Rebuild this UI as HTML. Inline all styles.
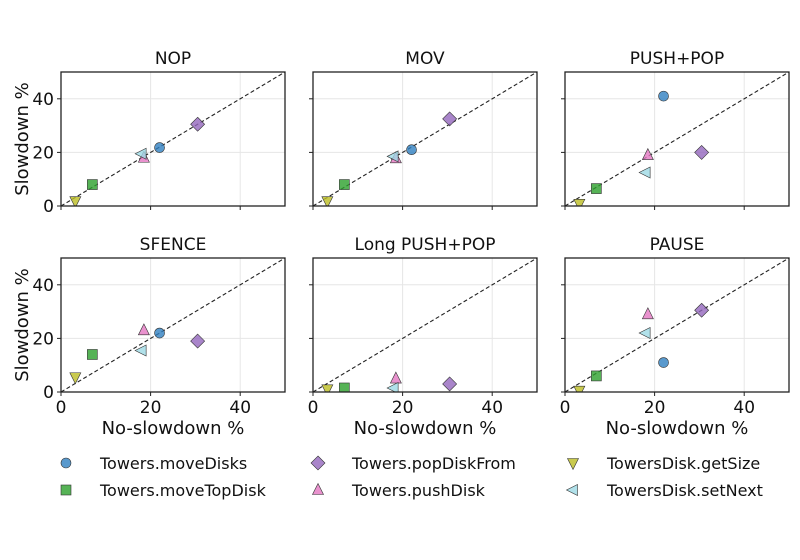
<!DOCTYPE html>
<html><head><meta charset="utf-8"><style>
body{margin:0;background:#fff}
svg{display:block;font-family:"DejaVu Sans","Liberation Sans",sans-serif}
</style></head><body>
<svg id="c" width="800" height="560"></svg>
<script>
const panelTitles=["NOP","MOV","PUSH+POP","SFENCE","Long PUSH+POP","PAUSE"];
const seriesNames=["Towers.moveDisks","Towers.moveTopDisk","Towers.popDiskFrom","Towers.pushDisk","TowersDisk.getSize","TowersDisk.setNext"];
const xValues=[22,7,30.5,18.5,3.2,18];
const yNOP=[21.8,8,30.5,18,1.8,19.5];
const yMOV=[21,8,32.5,17.8,1.8,18.5];
const yPUSHPOP=[41,6.5,20,19,0.8,12.5];
const ySFENCE=[22,14,19,23,5.5,15.5];
const yLONG=[-5,1.5,3,5,1,1.5];
const yPAUSE=[11,6,30.5,29,0.5,22];
const ticks=[0,20,40];
const tickLabels=["0","20","40"];
const panelY=[yNOP,yMOV,yPUSHPOP,ySFENCE,yLONG,yPAUSE];
const colors=["#2f7fc0","#2ca02c","#9467bd","#e377c2","#bcbd22","#9edae5"];
const shapes=["circle","square","diamond","tri-up","tri-down","tri-left"];
const NS="http://www.w3.org/2000/svg";
const svg=document.getElementById('c');
function mk(t,a,p){const e=document.createElementNS(NS,t);for(const k in a)e.setAttribute(k,a[k]);(p||svg).appendChild(e);return e;}
function marker(g,shape,cx,cy,col){
  let e;const s=5.5;
  if(shape=="circle")e=mk('circle',{cx:cx,cy:cy,r:5},g);
  else if(shape=="square")e=mk('rect',{x:cx-5,y:cy-5,width:10,height:10},g);
  else{let pts;
    if(shape=="diamond")pts=[[0,-7],[7,0],[0,7],[-7,0]];
    if(shape=="tri-up")pts=[[0,-s-1],[s,s-1],[-s,s-1]];
    if(shape=="tri-down")pts=[[0,s+1],[s,-s+1],[-s,-s+1]];
    if(shape=="tri-left")pts=[[-s-1,0],[s-1,-s],[s-1,s]];
    e=mk('polygon',{points:pts.map(p=>(cx+p[0])+','+(cy+p[1])).join(' ')},g);}
  e.setAttribute('fill',col);e.setAttribute('fill-opacity','0.8');e.setAttribute('stroke','#333');e.setAttribute('stroke-width','0.6');
  return e;
}
const panelLeft=[61,313,565],panelTop=[72,258],W=224,H=134,maxV=50;
mk('defs',{}).innerHTML='<clipPath id="cp"><rect x="0" y="0" width="224" height="134"/></clipPath>';
panelY.forEach((ys,pi)=>{
  const x0=panelLeft[pi%3],y0=panelTop[Math.floor(pi/3)];
  const sx=v=>x0+v/maxV*W, sy=v=>y0+H-v/maxV*H;
  const g=mk('g',{});
  
  
  ticks.forEach((t,i)=>{
    const gx=mk('line',{x1:sx(t),x2:sx(t),y1:y0,y2:y0+H,stroke:'#e6e6e6','stroke-width':1},g);
    
    const gy=mk('line',{x1:x0,x2:x0+W,y1:sy(t),y2:sy(t),stroke:'#e6e6e6','stroke-width':1},g);
    
    mk('line',{x1:sx(t),x2:sx(t),y1:y0+H,y2:y0+H+4,stroke:'#222'},g);
    mk('line',{x1:x0-4,x2:x0,y1:sy(t),y2:sy(t),stroke:'#222'},g);
    if(pi%3==0){const tl=mk('text',{x:x0-7,y:sy(t)+6,'text-anchor':'end','font-size':17,fill:'#111'},g);tl.textContent=tickLabels[i];
      }
    if(pi>=3){const tl=mk('text',{x:sx(t),y:y0+H+21,'text-anchor':'middle','font-size':17,fill:'#111'},g);tl.textContent=tickLabels[i];
      }
  });
  const d=mk('line',{x1:sx(0),y1:sy(0),x2:sx(50),y2:sy(50),stroke:'#222','stroke-dasharray':'4,2.5','stroke-width':1.1},g);
  
  const mg=mk('g',{transform:`translate(${x0},${y0})`},g);
  const inner=mk('g',{'clip-path':'url(#cp)'},mg);
  const ig=mk('g',{transform:`translate(${-x0},${-y0})`},inner);
  ys.forEach((v,si)=>{const m=marker(ig,shapes[si],sx(xValues[si]),sy(v),colors[si]);
    
    });
  const fr=mk('rect',{x:x0,y:y0,width:W,height:H,fill:'none',stroke:'#222','stroke-width':1.3},g);
  
  const tt=mk('text',{x:x0+W/2,y:y0-8,'text-anchor':'middle','font-size':17,fill:'#111'},g);
  tt.textContent=panelTitles[pi];
  
  if(pi%3==0){const yl=mk('text',{transform:`translate(${x0-33},${y0+H/2}) rotate(-90)`,'text-anchor':'middle','font-size':18,fill:'#111'},g);
    yl.textContent='Slowdown %';}
  if(pi>=3){const xl=mk('text',{x:x0+W/2,y:y0+H+42,'text-anchor':'middle','font-size':18,fill:'#111'},g);
    xl.textContent='No-slowdown %';}
});
const lg=mk('g',{});

const lx=[66,318,573],ly=[463,490];
seriesNames.forEach((n,i)=>{
  const cx=lx[Math.floor(i/2)],cy=ly[i%2];
  const e=mk('g',{},lg);
  
  marker(e,shapes[i],cx,cy,colors[i]);
  const t=mk('text',{x:cx+34,y:cy+6,'font-size':16,fill:'#111'},e);t.textContent=n;
});
</script>
</body></html>
